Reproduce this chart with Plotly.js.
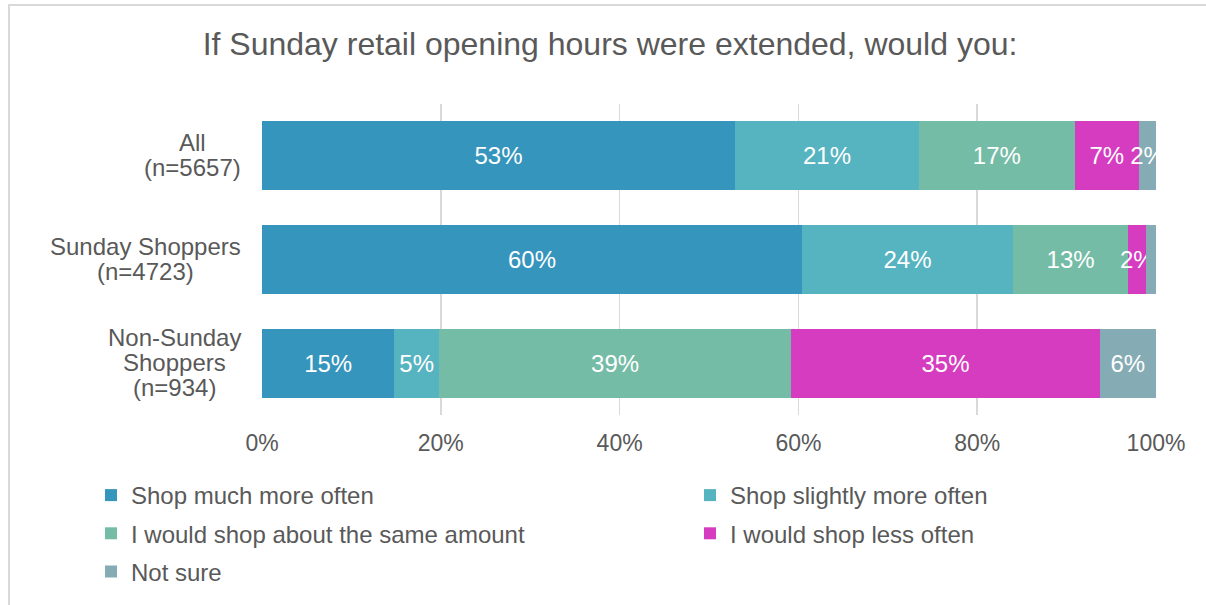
<!DOCTYPE html>
<html>
<head>
<meta charset="utf-8">
<script src="https://cdn.plot.ly/plotly-3.0.1.min.js"></script>
<style>
  html, body { margin: 0; padding: 0; background: #ffffff; overflow: hidden; }
  #chart { width: 1206px; height: 605px; }
  #frame { position: absolute; left: 8px; top: 4px; width: 1400px; height: 700px;
           border: 2px solid #d9d9d9; pointer-events: none; box-sizing: border-box; }
</style>
</head>
<body>
<div id="chart"></div>
<div id="frame"></div>
<script>
// ---------------- data ----------------
const categoryLines = [
  ['All', '(n=5657)'],
  ['Sunday Shoppers', '(n=4723)'],
  ['Non-Sunday', 'Shoppers', '(n=934)']
];
const seriesNames = [
  'Shop much more often',
  'Shop slightly more often',
  'I would shop about the same amount',
  'I would shop less often',
  'Not sure'
];
const shopMuchMore     = [52.9, 60.4, 14.8];
const shopSlightlyMore = [20.6, 23.6, 5.0];
const shopSame         = [17.4, 12.9, 39.4];
const shopLess         = [7.2, 2.0, 34.5];
const notSure          = [1.9, 1.1, 6.3];
const tickValues = [0, 20, 40, 60, 80, 100];
const tickLabels = ['0%', '20%', '40%', '60%', '80%', '100%'];

// ---------------- styles ----------------
const colors = ['#3595BC', '#56B3C0', '#75BCA6', '#D53CC0', '#85ABB5'];
const legendOf = ['legend', 'legend2', 'legend', 'legend2', 'legend'];
const FONT = '"Liberation Sans", Arial, sans-serif';
const TEXT_COLOR = '#595959';

const categories = categoryLines.map(l => l.join(' '));
const seriesValues = [shopMuchMore, shopSlightlyMore, shopSame, shopLess, notSure];

const traces = seriesValues.map((vals, k) => ({
  type: 'bar',
  orientation: 'h',
  name: seriesNames[k],
  y: categories,
  x: vals,
  marker: { color: colors[k], line: { width: 0 } },
  text: vals.map(v => v >= 1.5 ? Math.round(v) + '%' : ''),
  textposition: 'inside',
  insidetextanchor: 'middle',
  textangle: 0,
  constraintext: 'none',
  textfont: { family: FONT, size: 24, color: '#ffffff' },
  hoverinfo: 'skip',
  legend: legendOf[k],
  legendgroup: 'g' + k
}));

// category labels, one annotation per line, block centred, right edge 21px left of axis
const ctx = document.createElement('canvas').getContext('2d');
ctx.font = '24px "Liberation Sans"';
const LINE_GAP = 25;
const annotations = [];
categoryLines.forEach((lines, i) => {
  const maxW = Math.max(...lines.map(s => ctx.measureText(s).width));
  const n = lines.length;
  lines.forEach((s, j) => {
    annotations.push({
      text: s,
      xref: 'paper', x: 0, xanchor: 'center', xshift: -(21 + maxW / 2),
      yref: 'y', y: categories[i], yanchor: 'middle',
      yshift: -(j - (n - 1) / 2) * LINE_GAP + 1,
      showarrow: false,
      font: { family: FONT, size: 24, color: TEXT_COLOR }
    });
  });
});

const legendCommon = {
  orientation: 'v',
  xref: 'container', yref: 'container',
  xanchor: 'left', yanchor: 'top',
  font: { family: FONT, size: 24, color: TEXT_COLOR },
  traceorder: 'grouped',
  tracegroupgap: 4,
  bgcolor: 'rgba(0,0,0,0)',
  itemclick: false, itemdoubleclick: false
};

const layout = {
  width: 1206,
  height: 605,
  margin: { l: 262, r: 50, t: 104, b: 190, pad: 0, autoexpand: false },
  paper_bgcolor: '#ffffff',
  plot_bgcolor: '#ffffff',
  font: { family: FONT, color: TEXT_COLOR },
  title: {
    text: 'If Sunday retail opening hours were extended, would you:',
    font: { family: FONT, size: 32, color: TEXT_COLOR },
    xref: 'container', x: 610 / 1206, xanchor: 'center',
    yref: 'container', y: 1 - 44 / 605, yanchor: 'middle'
  },
  barmode: 'stack',
  bargap: 0.335,
  xaxis: {
    range: [0, 100],
    tickvals: tickValues,
    ticktext: tickLabels,
    tickangle: 0,
    ticklabelstandoff: 12,
    showgrid: true,
    gridcolor: '#d9d9d9',
    gridwidth: 1.5,
    zeroline: false,
    showline: false,
    ticks: '',
    automargin: false,
    tickfont: { family: FONT, size: 23, color: TEXT_COLOR },
    fixedrange: true
  },
  yaxis: {
    autorange: 'reversed',
    showticklabels: false,
    showgrid: false,
    zeroline: false,
    ticks: '',
    automargin: false,
    fixedrange: true
  },
  legend: Object.assign({}, legendCommon, { x: 91 / 1206, y: 1 - 473 / 605 }),
  legend2: Object.assign({}, legendCommon, { x: 690 / 1206, y: 1 - 473 / 605 }),
  annotations: annotations,
  showlegend: true
};

Plotly.newPlot('chart', traces, layout, { displayModeBar: false, staticPlot: true });
</script>
</body>
</html>
